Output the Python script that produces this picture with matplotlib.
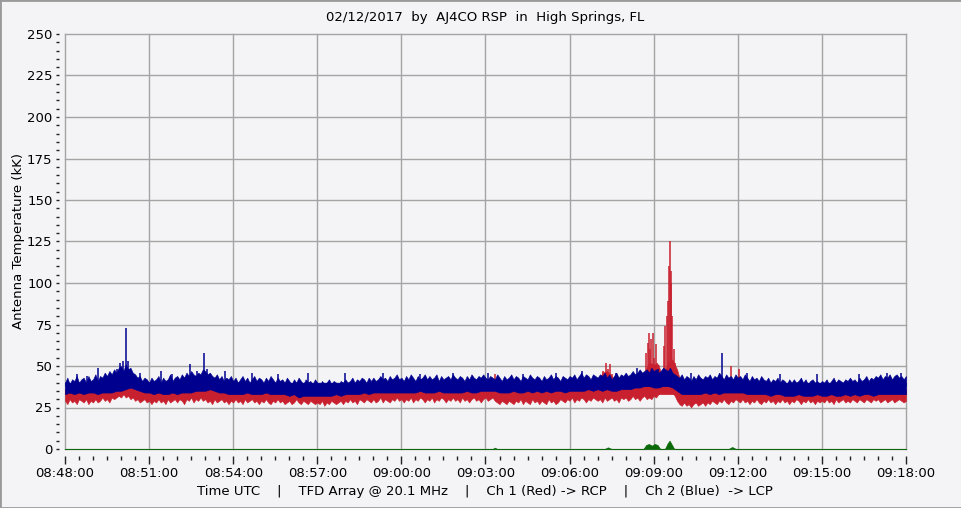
import numpy as np
import matplotlib
matplotlib.use('Agg')
import matplotlib.pyplot as plt
from matplotlib.patches import Rectangle

# Ch 2 (blue) upper edge, one sample every 5 s from 08:48:00 (361 samples)
blue_top = [40, 43, 39, 42, 41, 44, 40, 42, 43, 40, 44, 41,
            42, 45, 41, 44, 43, 46, 44, 47, 45, 48, 46, 49,
            50, 47, 51, 48, 49, 46, 45, 43, 44, 41, 43, 42,
            40, 43, 41, 42, 44, 40, 43, 41, 42, 45, 41, 43,
            44, 42, 45, 43, 46, 44, 47, 45, 44, 46, 45, 48,
            47, 45, 46, 44, 43, 45, 42, 44, 41, 43, 42, 44,
            41, 43, 40, 42, 44, 41, 43, 40, 42, 44, 41, 43,
            42, 40, 43, 41, 44, 42, 40, 43, 41, 42, 40, 43,
            41, 39, 42, 40, 43, 41, 39, 42, 40, 41, 39, 42,
            40, 38, 41, 39, 40, 42, 39, 41, 40, 38, 41, 40,
            42, 40, 41, 43, 40, 42, 41, 43, 42, 40, 43, 41,
            43, 41, 42, 44, 42, 43, 41, 44, 42, 43, 45, 42,
            43, 41, 44, 42, 45, 43, 41, 44, 42, 43, 45, 42,
            44, 42, 43, 45, 41, 44, 42, 43, 44, 42, 45, 43,
            42, 44, 43, 41, 44, 42, 45, 43, 42, 44, 43, 45,
            43, 42, 44, 43, 42, 45, 43, 41, 44, 42, 43, 45,
            42, 44, 43, 41, 44, 43, 42, 45, 43, 42, 44, 43,
            41, 44, 42, 43, 45, 42, 44, 43, 41, 44, 43, 42,
            44, 43, 45, 42, 44, 46, 43, 45, 44, 42, 45, 44,
            43, 45, 44, 46, 43, 45, 42, 44, 46, 43, 45, 44,
            46, 44, 45, 47, 45, 46, 48, 46, 47, 48, 46, 49,
            47, 48, 46, 47, 49, 48, 47, 49, 46, 45, 44, 43,
            45, 42, 44, 43, 41, 44, 42, 45, 43, 42, 44, 43,
            45, 42, 44, 43, 46, 44, 42, 45, 43, 44, 42, 45,
            43, 44, 42, 45, 43, 41, 44, 42, 43, 41, 44, 42,
            41, 43, 40, 42, 41, 43, 40, 42, 41, 39, 42, 40,
            42, 40, 41, 43, 40, 42, 39, 41, 42, 40, 41, 39,
            41, 40, 42, 39, 41, 43, 40, 42, 41, 40, 42, 41,
            43, 41, 42, 40, 43, 41, 42, 44, 41, 43, 42, 44,
            43, 45, 42, 44, 43, 45, 42, 44, 45, 43, 44, 42, 44]
# Ch 1 (red) lower edge, same 5 s samples
red_bottom = [29, 27, 30, 28, 29, 27, 30, 29, 28, 30, 27, 29,
              28, 30, 28, 29, 31, 29, 30, 28, 31, 30, 31, 32,
              31, 33, 31, 32, 30, 31, 29, 30, 28, 29, 30, 28,
              29, 27, 29, 28, 30, 28, 29, 27, 30, 28, 29, 30,
              28, 30, 29, 27, 30, 29, 31, 28, 30, 29, 31, 29,
              30, 28, 29, 27, 30, 28, 29, 30, 28, 29, 27, 29,
              28, 30, 28, 29, 27, 30, 28, 29, 30, 28, 29, 27,
              29, 28, 30, 28, 27, 29, 28, 30, 28, 29, 27, 28,
              29, 27, 28, 30, 28, 27, 29, 28, 27, 29, 28, 27,
              28, 27, 29, 26, 28, 27, 29, 28, 27, 28, 29, 27,
              29, 28, 30, 28, 29, 27, 30, 29, 28, 30, 29, 28,
              30, 28, 29, 31, 28, 30, 29, 28, 30, 29, 31, 29,
              30, 28, 30, 29, 31, 28, 30, 29, 31, 30, 28, 30,
              29, 31, 28, 30, 29, 31, 30, 28, 30, 29, 31, 29,
              30, 28, 31, 29, 30, 28, 30, 31, 29, 30, 28, 30,
              31, 29, 30, 31, 29, 28, 27, 29, 28, 27, 29, 28,
              27, 29, 28, 30, 27, 29, 28, 27, 30, 28, 29, 27,
              29, 28, 27, 30, 28, 29, 27, 28, 30, 29, 28, 30,
              29, 31, 28, 30, 29, 31, 30, 28, 30, 29, 31, 30,
              29, 30, 28, 31, 29, 30, 31, 29, 30, 28, 31, 30,
              31, 29, 30, 32, 30, 31, 29, 31, 32, 30, 31, 30,
              32, 31, 33, 34, 35, 36, 35, 36, 34, 32, 29, 27,
              26, 28, 26, 27, 25, 27, 28, 26, 27, 28, 26, 28,
              27, 29, 28, 27, 29, 28, 30, 28, 27, 29, 28, 30,
              29, 28, 30, 28, 29, 27, 29, 28, 30, 28, 27, 29,
              28, 30, 28, 29, 27, 29, 28, 30, 28, 29, 27, 29,
              28, 30, 29, 27, 29, 28, 30, 28, 29, 27, 29, 28,
              29, 28, 30, 28, 29, 27, 30, 28, 29, 30, 28, 29,
              28, 30, 29, 28, 30, 29, 28, 30, 29, 28, 30, 29,
              30, 28, 29, 30, 28, 29, 30, 28, 29, 30, 29, 28, 29]

# inner edges (blue bottom / red top), one sample every 10 s (181 samples)
blue_lo = [33, 34, 33, 34, 33, 34, 34, 33, 34, 34, 34, 35, 35, 36, 37, 36, 35, 34, 34,
           33, 34, 33, 33, 34, 33, 34, 34, 34, 35, 35, 35, 36, 35, 34, 34, 33, 33,
           33, 33, 34, 33, 33, 33, 34, 33, 33, 33, 33, 32, 33, 31, 32, 32, 32, 32,
           32, 32, 32, 33, 32, 33, 33, 33, 33, 34, 33, 34, 34, 34, 34, 34, 34, 34,
           34, 34, 34, 35, 34, 34, 34, 35, 34, 34, 34, 34, 34, 35, 34, 34, 35, 35,
           35, 35, 34, 34, 34, 35, 34, 34, 35, 34, 35, 34, 35, 34, 35, 35, 34, 35,
           35, 35, 35, 36, 35, 36, 35, 36, 35, 35, 36, 36, 36, 37, 37, 38, 38, 37,
           37, 38, 38, 37, 35, 33, 33, 33, 33, 33, 34, 33, 34, 33, 34, 34, 34, 34,
           34, 33, 33, 33, 33, 33, 32, 33, 33, 32, 32, 32, 33, 32, 32, 32, 33, 32,
           32, 33, 32, 32, 33, 32, 33, 32, 33, 33, 32, 33, 33, 33, 33, 33, 33, 33]
red_hi = [36, 37, 36, 37, 36, 37, 37, 36, 37, 37, 37, 38, 38, 39, 40, 39, 38, 37, 37,
          36, 37, 36, 36, 37, 36, 37, 37, 37, 38, 38, 38, 39, 38, 37, 37, 36, 36,
          36, 36, 37, 36, 36, 36, 37, 36, 36, 36, 36, 35, 36, 34, 35, 35, 35, 35,
          35, 35, 35, 36, 35, 36, 36, 36, 36, 37, 36, 37, 37, 37, 37, 37, 37, 37,
          37, 37, 37, 38, 37, 37, 37, 38, 37, 37, 37, 37, 37, 38, 37, 37, 38, 38,
          38, 40, 37, 37, 37, 38, 37, 37, 38, 37, 38, 37, 38, 37, 38, 38, 37, 38,
          38, 38, 38, 39, 38, 39, 46, 47, 44, 38, 39, 39, 39, 40, 40, 46, 52, 51,
          51, 42, 52, 54, 48, 38, 36, 36, 36, 36, 37, 36, 37, 37, 37, 37, 40, 37,
          37, 36, 36, 36, 36, 36, 35, 36, 36, 35, 35, 35, 36, 35, 35, 35, 36, 35,
          35, 36, 35, 35, 36, 35, 36, 35, 36, 36, 35, 36, 36, 36, 36, 36, 36, 36]

# isolated narrow spikes (seconds after 08:48:00, kK)
blue_spike_t = [25, 48, 71, 96, 111, 118, 124, 131, 135, 160, 205, 230, 268, 282, 298, 303,
                342, 400, 455, 520, 600, 680, 760, 830, 905, 980, 1050, 1106, 1180, 1225,
                1270, 1340, 1407, 1460, 1530, 1610, 1700, 1760, 1790]
blue_spike_v = [45, 44, 49, 46, 48, 52, 53, 73, 53, 46, 47, 45, 51, 47, 58, 48,
                47, 46, 45, 46, 46, 46, 45, 46, 46, 45, 46, 47, 46, 49,
                48, 46, 58, 46, 45, 45, 45, 46, 46]
red_spike_t = [130, 921, 1152, 1157, 1162, 1166, 1171,
               1244, 1247, 1249, 1252, 1255, 1258, 1261, 1264, 1267, 1270,
               1282, 1285, 1288, 1290, 1292, 1294, 1296, 1298, 1300, 1303, 1306,
               1425, 1442]
red_spike_v = [40, 45, 47, 52, 48, 51, 45,
               58, 64, 70, 60, 66, 70, 55, 63, 52, 50,
               62, 74, 80, 89, 110, 125, 100, 107, 80, 60, 52,
               50, 48]

green_t = [0, 915, 920, 925, 1155, 1162, 1170, 1238, 1244, 1250, 1256, 1262, 1268, 1274,
           1284, 1290, 1294, 1298, 1304, 1420, 1428, 1436, 1800]
green_v = [0, 0, 0.8, 0, 0, 1, 0, 0, 2.5, 3, 2, 3, 2.5, 0,
           0, 3.5, 5, 3, 0, 0, 1.2, 0, 0]

time_labels = ['08:48:00', '08:51:00', '08:54:00', '08:57:00', '09:00:00', '09:03:00',
               '09:06:00', '09:09:00', '09:12:00', '09:15:00', '09:18:00']
y_ticks = [0, 25, 50, 75, 100, 125, 150, 175, 200, 225, 250]

BG = '#f4f4f6'
GRID = '#a4a4a4'
BLUE = '#00008f'
RED = '#c8202e'
GREEN = '#0a6a0a'

plt.rcParams['font.family'] = 'DejaVu Sans'
plt.rcParams['font.size'] = 9.5

fig = plt.figure(figsize=(9.62, 5.08), dpi=100, facecolor=BG)
fig.patches.append(Rectangle((0, 0), 1, 1, transform=fig.transFigure, fill=False,
                             edgecolor='#9a9a9a', lw=2, zorder=0))
ax = fig.add_axes([65 / 962, 1 - 449 / 508, 841 / 962, 415 / 508])
ax.set_facecolor(BG)

t5 = np.arange(0, 1801, 5)
t10 = np.arange(0, 1801, 10)

# red channel: outer edge + inner edge, blue drawn over it
ax.fill_between(t5, red_bottom, 36, color=RED, lw=0.4, zorder=2)
ax.fill_between(t10, 33, red_hi, color=RED, lw=0.4, zorder=2)
ax.vlines(red_spike_t, 35, red_spike_v, color=RED, lw=1.1, zorder=2)
ax.fill_between(t10, blue_lo, 40, color=BLUE, lw=0.4, zorder=3)
ax.fill_between(t5, 38, blue_top, color=BLUE, lw=0.4, zorder=3)
ax.vlines(blue_spike_t, 38, blue_spike_v, color=BLUE, lw=1.1, zorder=3)
ax.fill_between(green_t, 0, green_v, color=GREEN, lw=0.5, zorder=4)

ax.set_xlim(0, 1800)
ax.set_ylim(0, 250)
ax.set_xticks(np.arange(0, 1801, 180))
ax.set_xticklabels(time_labels)
ax.set_xticks(np.arange(0, 1801, 30), minor=True)
ax.set_yticks(y_ticks)
ax.set_yticks(np.arange(0, 251, 5), minor=True)

ax.grid(True, which='major', color=GRID, lw=1, clip_on=False, zorder=1)
for s in ax.spines.values():
    s.set_visible(False)
ax.spines['bottom'].set_position(('outward', 5))
ax.spines['left'].set_position(('outward', 4))
ax.tick_params(axis='x', which='major', length=6, width=1, color='#222222', pad=2, labelsize=9.5)
ax.tick_params(axis='x', which='minor', length=3, width=1, color='#222222')
ax.tick_params(axis='y', which='both', length=2, width=1, color='#222222', pad=3, labelsize=9.5)

fig.text(485 / 962, 1 - 18 / 508, '02/12/2017  by  AJ4CO RSP  in  High Springs, FL',
         ha='center', va='center', fontsize=9.5)
fig.text(485 / 962, 1 - 491 / 508,
         'Time UTC    |    TFD Array @ 20.1 MHz    |    Ch 1 (Red) -> RCP    |    Ch 2 (Blue)  -> LCP',
         ha='center', va='center', fontsize=9.5)
fig.text(19 / 962, 1 - 241 / 508, 'Antenna Temperature (kK)', rotation=90,
         ha='center', va='center', fontsize=9.5)

plt.savefig('out.png', dpi=100, facecolor=BG)
